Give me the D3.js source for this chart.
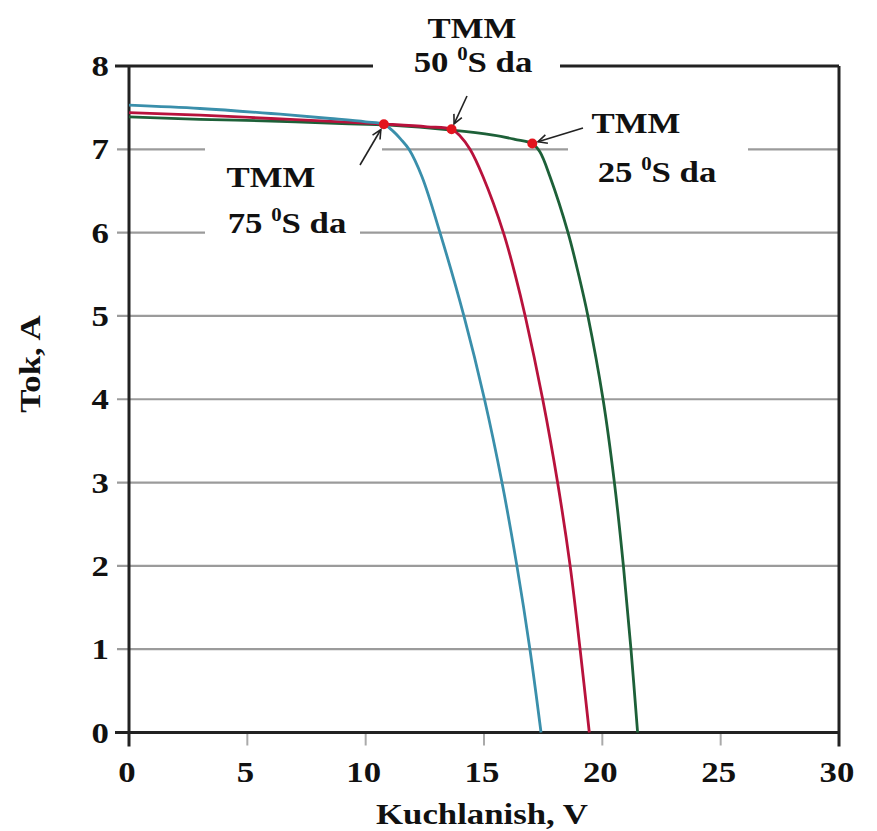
<!DOCTYPE html>
<html>
<head>
<meta charset="utf-8">
<script src="https://cdn.jsdelivr.net/npm/d3@7.8.5/dist/d3.min.js"></script>
<style>
  body { margin: 0; background: #fff; }
  svg text { font-family: "Liberation Serif", "Times New Roman", serif; font-weight: bold; fill: #111; }
</style>
</head>
<body>
<svg id="chart" width="877" height="831"></svg>
<script>
// I-V curves of the panel at three temperatures: [voltage V, current A]
const curve75 = [[0,7.53],[3,7.49],[6,7.43],[8.5,7.37],[10,7.33],[10.77,7.30],[11.11,7.23],[11.49,7.12],[11.83,7.0],[12.38,6.67],[13.14,6.0],[14.15,5.0],[15.02,4.0],[15.76,3.0],[16.39,2.0],[16.94,1.0],[17.41,0]];
const curve50 = [[0,7.44],[3,7.41],[6,7.37],[9,7.33],[11,7.30],[12.6,7.27],[13.63,7.24],[13.99,7.16],[14.41,7.0],[14.96,6.67],[15.82,6.0],[16.34,5.47],[16.74,5.0],[17.48,4.0],[18.11,3.0],[18.64,2.0],[19.06,1.0],[19.45,0]];
const curve25 = [[0,7.39],[3,7.36],[6,7.34],[9,7.31],[11,7.29],[13.63,7.23],[15.39,7.17],[16.3,7.12],[17.04,7.07],[17.36,6.97],[17.79,6.67],[18.55,6.0],[19.02,5.47],[19.39,5.0],[20.03,4.0],[20.51,3.0],[20.89,2.0],[21.21,1.0],[21.49,0]];

// maximum power points (TMM)
const mppV = [10.77, 13.63, 17.04];
const mppI = [7.30, 7.24, 7.07];
const mppTemp = ["75", "50", "25"];

const xTicks = [0, 5, 10, 15, 20, 25, 30];
const yTicks = [0, 1, 2, 3, 4, 5, 6, 7, 8];
const xTitle = "Kuchlanish, V";
const yTitle = "Tok, A";

const svg = d3.select("#chart");
const x = d3.scaleLinear().domain([0, 30]).range([129, 839]);
const y = d3.scaleLinear().domain([0, 8]).range([732.5, 66]);
const SX = 1.16; // the source picture is a bit wider than tall

function label(g, px, py, anchor, size, extraRot) {
  const rot = extraRot ? ` rotate(${extraRot})` : "";
  return g.append("text")
    .attr("transform", `translate(${px},${py})${rot} scale(${SX},1)`)
    .attr("text-anchor", anchor)
    .style("font-size", size + "px");
}

// gridlines (1..7)
svg.append("g").selectAll("line")
  .data(yTicks.filter(d => d > 0 && d < 8))
  .enter().append("line")
  .attr("x1", 117).attr("x2", x(30))
  .attr("y1", d => y(d)).attr("y2", d => y(d))
  .attr("stroke", "#9b9b9b").attr("stroke-width", 2.2);

// x tick marks
svg.append("g").selectAll("line")
  .data(xTicks.filter(d => d > 0 && d < 30))
  .enter().append("line")
  .attr("x1", d => x(d)).attr("x2", d => x(d))
  .attr("y1", y(0)).attr("y2", y(0) + 13)
  .attr("stroke", "#aaa").attr("stroke-width", 2);

// frame
const frame = svg.append("g").attr("stroke", "#222").attr("stroke-width", 3).attr("fill", "none");
frame.append("line").attr("x1", x(0)).attr("x2", x(0)).attr("y1", y(8)).attr("y2", y(0) + 14);
frame.append("line").attr("x1", x(30)).attr("x2", x(30)).attr("y1", y(8)).attr("y2", y(0) + 14);
frame.append("line").attr("x1", 115).attr("x2", x(30)).attr("y1", y(0)).attr("y2", y(0));
frame.append("line").attr("x1", 115).attr("x2", x(30)).attr("y1", y(8)).attr("y2", y(8));

// white boxes behind the annotations (they cut the gridlines / frame)
svg.append("rect").attr("x", 373).attr("y", 0).attr("width", 187).attr("height", 96).attr("fill", "#fff");
svg.append("rect").attr("x", 568).attr("y", 100).attr("width", 180).attr("height", 90).attr("fill", "#fff");
svg.append("rect").attr("x", 205).attr("y", 140).attr("width", 155).attr("height", 100).attr("fill", "#fff");
svg.append("rect").attr("x", 205).attr("y", 140).attr("width", 177).attr("height", 20).attr("fill", "#fff");

// tick labels
const yl = svg.append("g");
yTicks.forEach(d => label(yl, 109, y(d) + 10, "end", 30).text(d));
const xl = svg.append("g");
xTicks.forEach(d => label(xl, x(d) - 2, 782, "middle", 30).text(d));

// axis titles
label(svg, 482, 824, "middle", 30).text(xTitle);
label(svg, 40, 364, "middle", 30, -90).text(yTitle);

// curves
const line = d3.line().x(d => x(d[0])).y(d => y(d[1])).curve(d3.curveCatmullRom.alpha(0.5));
const series = [
  { data: curve25, color: "#1d6038" },
  { data: curve50, color: "#b8123c" },
  { data: curve75, color: "#3a8fab" }
];
svg.append("g").selectAll("path")
  .data(series).enter().append("path")
  .attr("d", d => line(d.data))
  .attr("fill", "none")
  .attr("stroke", d => d.color)
  .attr("stroke-width", 2.8);

// MPP markers
svg.append("g").selectAll("circle")
  .data(mppV).enter().append("circle")
  .attr("cx", d => x(d)).attr("cy", (d, i) => y(mppI[i]))
  .attr("r", 5).attr("fill", "#e3141e");

// arrows from labels to points
const arrowFrom = [[360, 165], [467, 96], [583, 128]];
const arrows = svg.append("g").attr("stroke", "#222").attr("stroke-width", 1.6).attr("fill", "none");
mppV.forEach((v, i) => {
  const [fx, fy] = arrowFrom[i];
  const tx = x(v), ty = y(mppI[i]);
  const ang = Math.atan2(ty - fy, tx - fx);
  const ex = tx - 6 * Math.cos(ang), ey = ty - 6 * Math.sin(ang);
  arrows.append("line").attr("x1", fx).attr("y1", fy).attr("x2", ex).attr("y2", ey);
  const h = 10, spread = 0.45;
  arrows.append("path").attr("d",
    `M${ex - h * Math.cos(ang - spread)},${ey - h * Math.sin(ang - spread)}L${ex},${ey}L${ex - h * Math.cos(ang + spread)},${ey - h * Math.sin(ang + spread)}`);
});

// annotation labels
const labelPos = [
  { tmm: [271, 187], t: [287, 233] },
  { tmm: [472, 38], t: [473, 72] },
  { tmm: [636, 133], t: [657, 182] }
];
labelPos.forEach((p, i) => {
  label(svg, p.tmm[0], p.tmm[1], "middle", 30).text("TMM");
  const t = label(svg, p.t[0], p.t[1], "middle", 30);
  t.append("tspan").text(mppTemp[i] + " ");
  t.append("tspan").attr("dy", -12).style("font-size", "18px").text("0");
  t.append("tspan").attr("dy", 12).text("S da");
});
</script>
</body>
</html>
